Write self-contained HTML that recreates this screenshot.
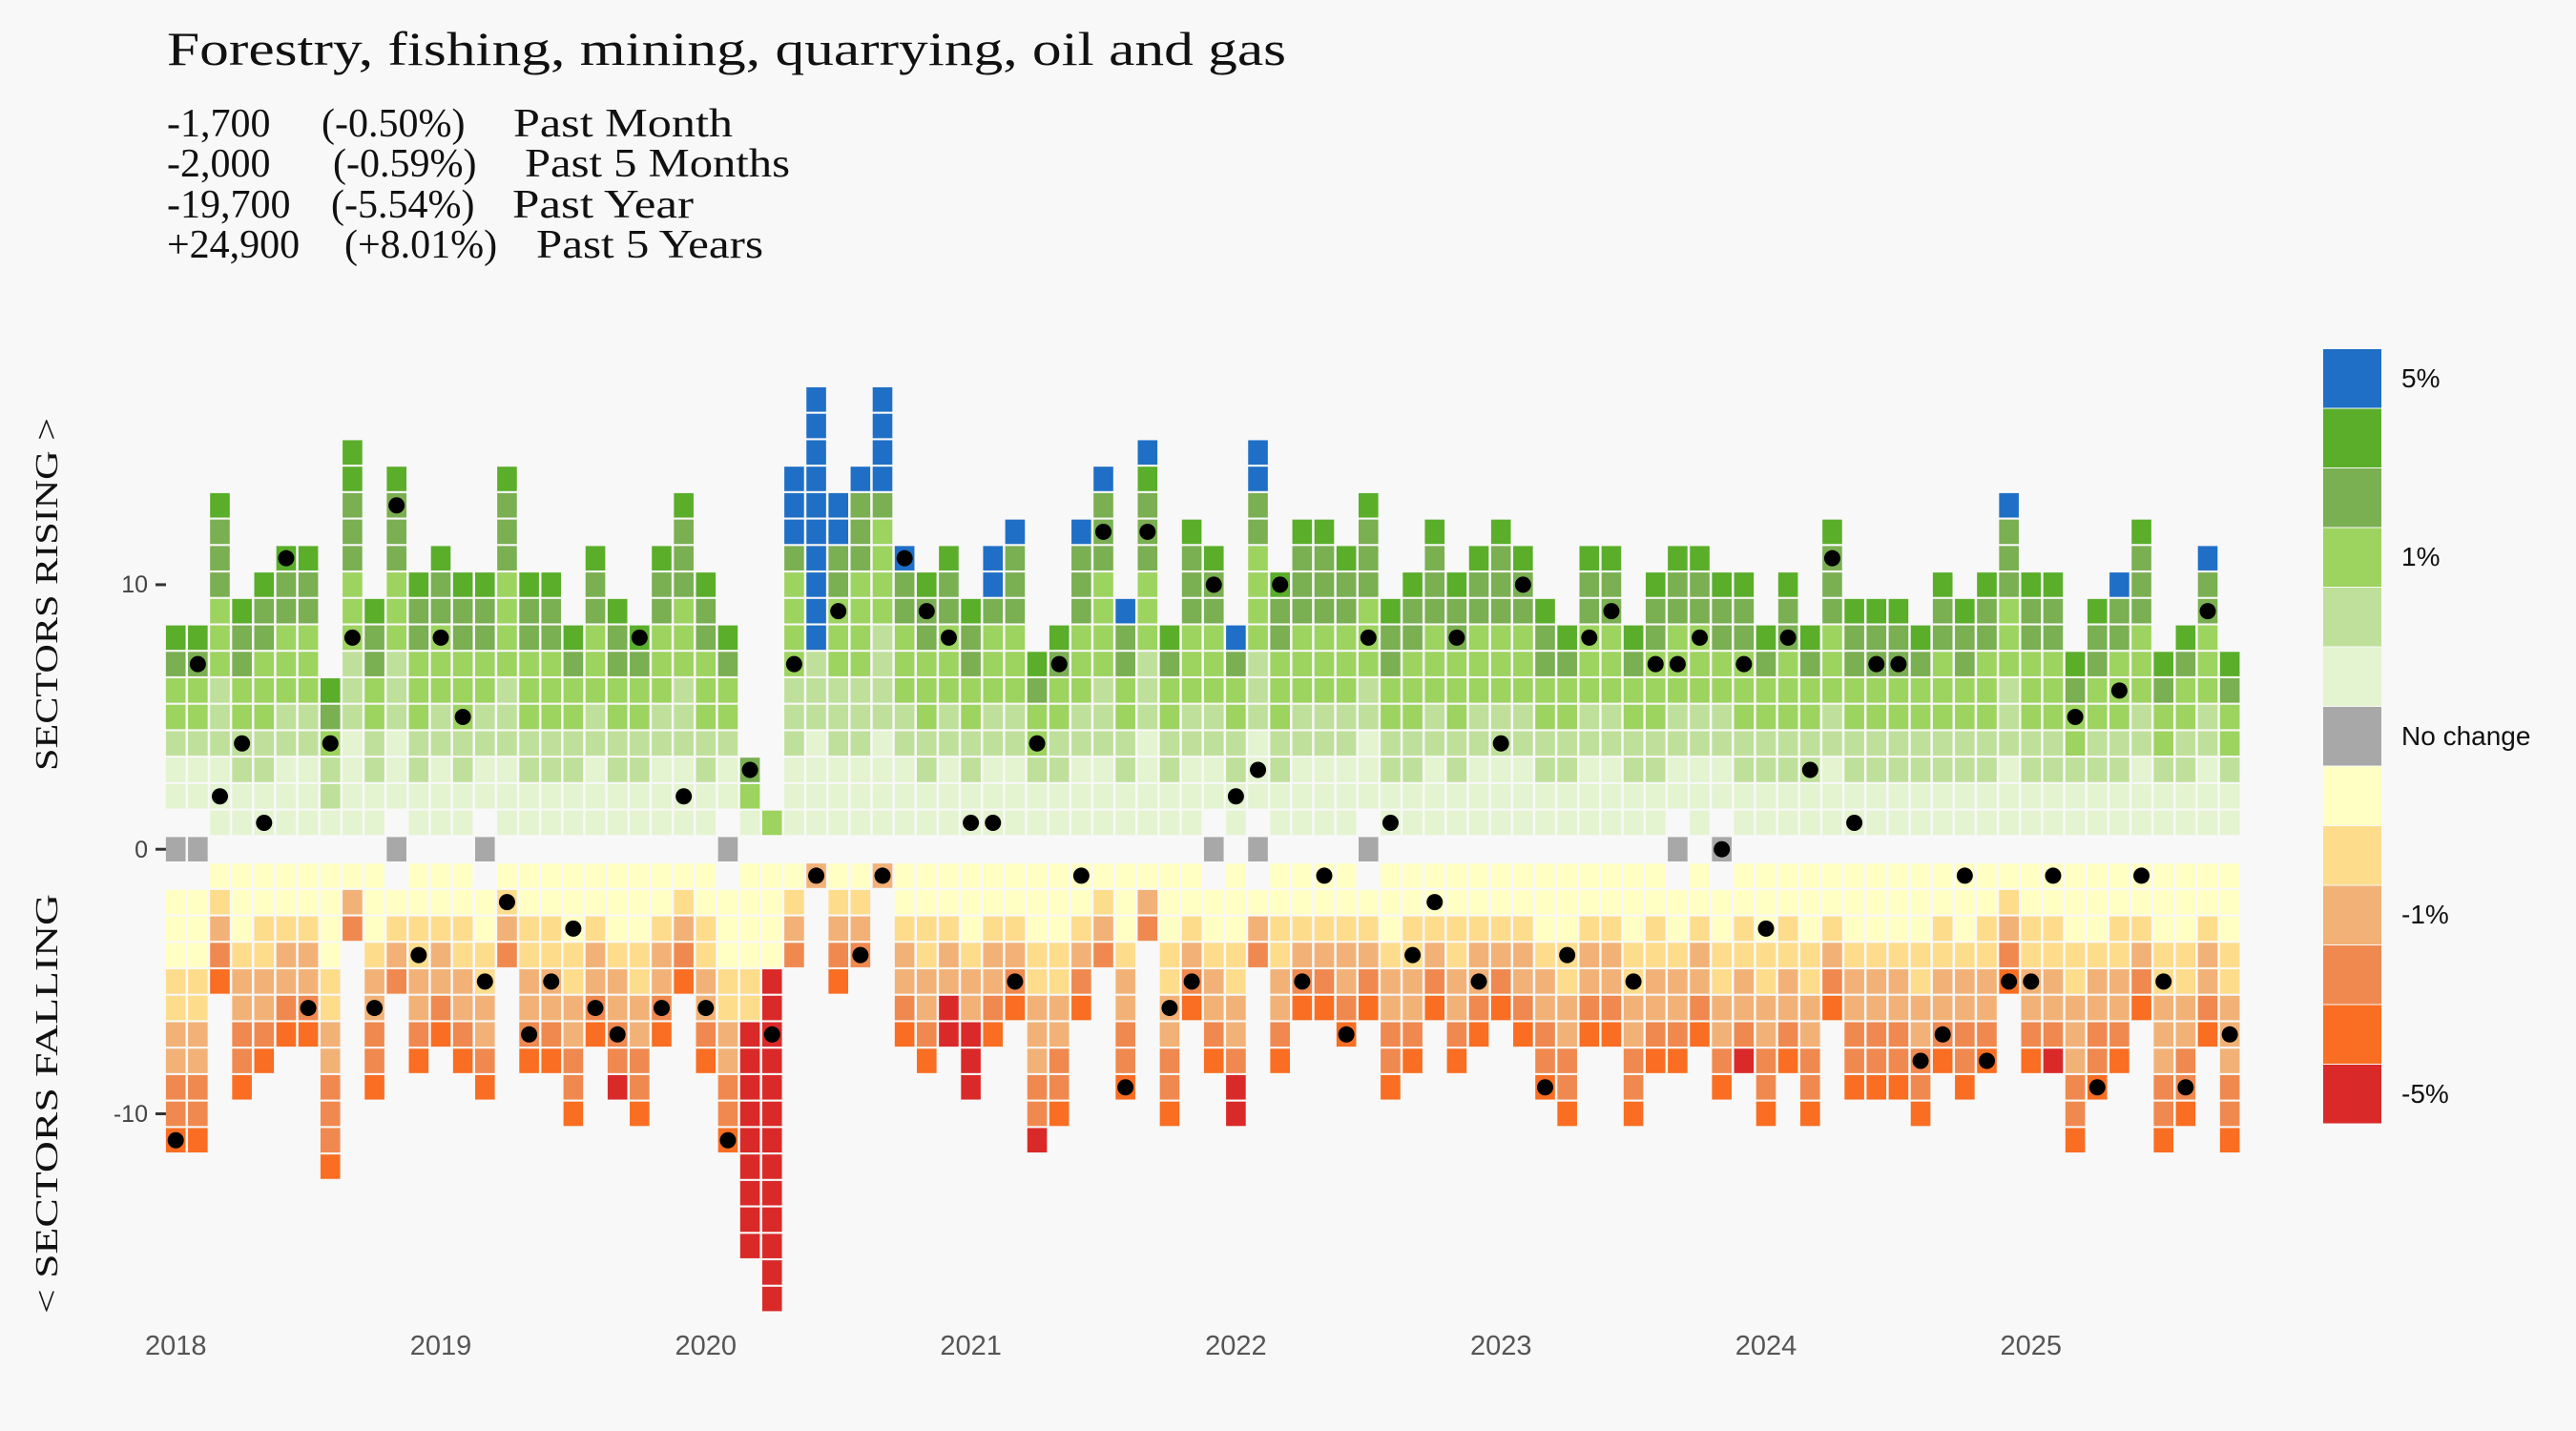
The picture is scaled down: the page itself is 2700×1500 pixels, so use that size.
<!DOCTYPE html>
<html><head><meta charset="utf-8"><style>
html,body{margin:0;padding:0;background:#f8f8f8;}
svg{display:block;}
</style></head><body>
<svg id="s" width="2700" height="1500" viewBox="0 0 2700 1500" xmlns="http://www.w3.org/2000/svg">
<rect width="2700" height="1500" fill="#f8f8f8"/>
<g font-family="Liberation Serif, serif" fill="#111">
<text x="175" y="68" font-size="50" textLength="1173" lengthAdjust="spacingAndGlyphs">Forestry, fishing, mining, quarrying, oil and gas</text>
<g font-size="42">
<text x="175" y="143">-1,700</text><text x="337" y="143">(-0.50%)</text><text x="538" y="143" textLength="230" lengthAdjust="spacingAndGlyphs">Past Month</text>
<text x="175" y="185">-2,000</text><text x="349" y="185">(-0.59%)</text><text x="550" y="185" textLength="278" lengthAdjust="spacingAndGlyphs">Past 5 Months</text>
<text x="175" y="228">-19,700</text><text x="347" y="228">(-5.54%)</text><text x="537" y="228" textLength="190" lengthAdjust="spacingAndGlyphs">Past Year</text>
<text x="175" y="270">+24,900</text><text x="361" y="270">(+8.01%)</text><text x="562" y="270" textLength="238" lengthAdjust="spacingAndGlyphs">Past 5 Years</text>
</g>
<text transform="translate(60,623) rotate(-90)" text-anchor="middle" font-size="34" textLength="370" lengthAdjust="spacingAndGlyphs">SECTORS RISING &gt;</text>
<text transform="translate(60,1157) rotate(-90)" text-anchor="middle" font-size="34" textLength="440" lengthAdjust="spacingAndGlyphs">&lt; SECTORS FALLING</text>
</g>
<g font-family="Liberation Sans, sans-serif" font-size="25" fill="#444" text-anchor="end">
<text x="155" y="621">10</text><text x="155" y="899">0</text><text x="155" y="1176">-10</text>
</g>
<g stroke="#333" stroke-width="3">
<line x1="163" x2="174" y1="612.9" y2="612.9"/><line x1="163" x2="174" y1="890.2" y2="890.2"/><line x1="163" x2="174" y1="1167.5" y2="1167.5"/>
</g>
<g id="cells"></g>
<g id="dots" fill="#000"></g>
<g id="xl" font-family="Liberation Sans, sans-serif" font-size="29" fill="#555" text-anchor="middle"></g>
<g id="leg"></g>
<g font-family="Liberation Sans, sans-serif" font-size="28" fill="#111">
<text x="2517" y="406">5%</text>
<text x="2517" y="593">1%</text>
<text x="2517" y="781">No change</text>
<text x="2517" y="968">-1%</text>
<text x="2517" y="1156">-5%</text>
</g>
</svg>
<script>
var D=[
[8,-11,-11,1,0,0],[8,-11,7,1,0,0],[13,-5,2,0,0,0],[9,-9,4,0,0,0],[10,-8,1,0,0,0],[11,-7,11,0,0,0],[11,-7,-6,0,0,0],[6,-12,4,0,0,0],[15,-3,8,0,0,0],[9,-9,-6,0,0,0],
[14,-5,13,1,0,0],[10,-8,-4,0,0,0],[11,-7,8,0,0,0],[10,-8,5,0,0,0],[10,-9,-5,1,0,0],[14,-4,-2,0,0,0],[10,-8,-7,0,0,0],[10,-8,-5,0,0,0],[8,-10,-3,0,0,0],[11,-7,-6,0,0,0],
[9,-9,-7,0,0,1],[8,-10,8,0,0,0],[11,-7,-6,0,0,0],[13,-5,2,0,0,0],[10,-8,-6,0,0,0],[8,-11,-11,1,0,0],[3,-15,3,0,0,9],[1,-17,-7,0,0,13],[14,-4,7,0,3,0],[17,-1,-1,0,10,0],
[13,-5,9,0,2,0],[14,-4,-4,0,1,0],[17,-1,-1,0,4,0],[11,-7,11,0,1,0],[10,-8,9,0,0,0],[11,-7,8,0,0,2],[9,-9,1,0,0,3],[11,-7,1,0,2,0],[12,-6,-5,0,1,0],[7,-11,4,0,0,1],
[8,-10,7,0,0,0],[12,-6,-1,0,1,0],[14,-4,12,0,1,0],[9,-9,-9,0,1,0],[15,-3,12,0,1,0],[8,-10,-6,0,0,0],[12,-6,-5,0,0,0],[11,-8,10,1,0,0],[8,-10,2,0,1,2],[15,-4,3,1,2,0],
[10,-8,10,0,0,0],[12,-6,-5,0,0,0],[12,-6,-1,0,0,0],[11,-7,-7,0,0,0],[13,-6,8,1,0,0],[9,-9,1,0,0,0],[10,-8,-4,0,0,0],[12,-6,-2,0,0,0],[10,-8,8,0,0,0],[11,-7,-5,0,0,0],
[12,-6,4,0,0,0],[11,-7,10,0,0,0],[9,-9,-9,0,0,0],[8,-10,-4,0,0,0],[11,-7,8,0,0,0],[11,-7,9,0,0,0],[8,-10,-5,0,0,0],[10,-8,7,0,0,0],[11,-8,7,1,0,0],[11,-7,8,0,0,0],
[10,-9,0,1,0,0],[10,-8,7,0,0,1],[8,-10,-3,0,0,0],[10,-8,8,0,0,0],[8,-10,3,0,0,0],[12,-6,11,0,0,0],[9,-9,1,0,0,0],[9,-9,7,0,0,0],[9,-9,7,0,0,0],[8,-10,-8,0,0,0],
[10,-8,-7,0,0,0],[9,-9,-1,0,0,0],[10,-8,-8,0,0,0],[13,-5,-5,0,1,0],[10,-8,-5,0,0,0],[10,-8,-1,0,0,1],[7,-11,5,0,0,0],[9,-9,-9,0,0,0],[10,-8,6,0,1,0],[12,-6,-1,0,0,0],
[7,-11,-5,0,0,0],[8,-10,-9,0,0,0],[11,-7,9,0,1,0],[7,-11,-7,0,0,0]];
var U=['#e4f3d0','#bfe09a','#9dd35f','#7aaf52','#5aae2a'],BL='#1f6fc6';
var DN=['#ffffc4','#fddd8c','#f2b277','#f0894f','#f96e22'],RD='#d92a29',GR='#a8a8a8';
var NS='http://www.w3.org/2000/svg';
function R(p,x,y,w,h,f){var r=document.createElementNS(NS,'rect');r.setAttribute('x',x);r.setAttribute('y',y);r.setAttribute('width',w);r.setAttribute('height',h);r.setAttribute('fill',f);p.appendChild(r);}
var cg=document.getElementById('cells'),dg=document.getElementById('dots'),xg=document.getElementById('xl');
var Z=890.2,P=27.73,CW=20.6,CH=25.6;
function cy(k){return Z-P*k;}
D.forEach(function(d,i){
 var cx=184.2+23.15*i,x=cx-CW/2,s=d[3]?2:1;
 if(d[3])R(cg,x,cy(0)-CH/2,CW,CH,GR);
 var n=d[0]-s+1;
 for(var k=s;k<=d[0];k++){var j=k-s,f=(j+0.5)/n,c;
  if(k>d[0]-d[4])c=BL;else c=U[f<0.25?0:f<0.45?1:f<0.7?2:f<0.9?3:4];
  R(cg,x,cy(k)-CH/2,CW,CH,c);}
 var m=-d[1]-s+1;
 for(var k=s;k<=-d[1];k++){var j=k-s,f=(j+0.5)/m,c;
  if(k>-d[1]-d[5])c=RD;else c=DN[f<0.3?0:f<0.5?1:f<0.7?2:f<0.88?3:4];
  R(cg,x,cy(-k)-CH/2,CW,CH,c);}
 var e=document.createElementNS(NS,'circle');e.setAttribute('cx',cx);e.setAttribute('cy',cy(d[2]));e.setAttribute('r',8.5);dg.appendChild(e);
 if(i%12==0){var t=document.createElementNS(NS,'text');t.setAttribute('x',cx);t.setAttribute('y',1420);t.textContent=2018+i/12;xg.appendChild(t);}
});
var lg=document.getElementById('leg'),LC=[BL,U[4],U[3],U[2],U[1],U[0],GR,DN[0],DN[1],DN[2],DN[3],DN[4],RD];
LC.forEach(function(c,i){R(lg,2435,366+62.5*i,61,61.5,c);});
</script>
</body></html>
